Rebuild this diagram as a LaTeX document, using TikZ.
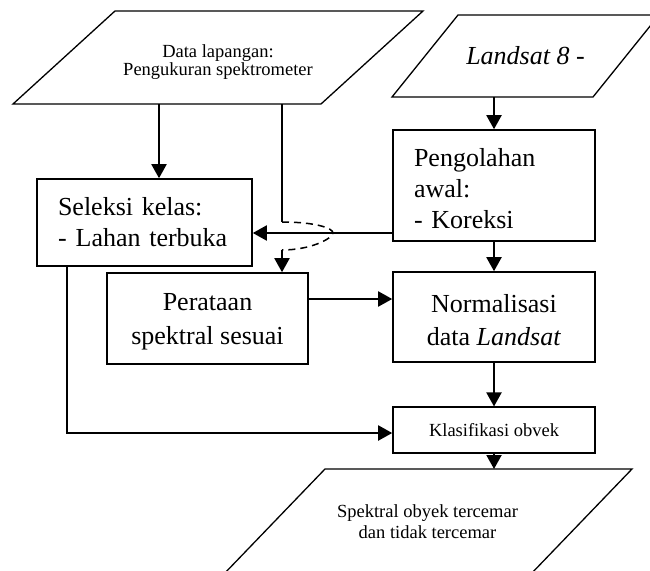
\documentclass[tikz,border=0pt]{standalone}
\usepackage{fontspec}
\setmainfont{Liberation Serif}
\usetikzlibrary{arrows.meta,calc}

\begin{document}
\begin{tikzpicture}[
	x=1pt, y=-1pt,
	box/.style={draw, line width=1.6pt, inner sep=0pt, minimum width=202pt},
	para/.style={line width=1.3pt, line join=miter},
	big/.style={font=\fontsize{26}{31}\selectfont},
	bigwide/.style={font=\fontsize{26}{33.5}\selectfont},
	small/.style={font=\fontsize{18.5}{21}\selectfont},
	tight/.style={font=\fontsize{18.5}{16.5}\selectfont},
	arr/.style={line width=2pt, -{Triangle[length=14pt,width=15pt]}},
	link/.style={line width=2pt},
	hopline/.style={line width=1.5pt, dash pattern=on 7pt off 5pt}
	]
	\useasboundingbox (0,0) rectangle (650,570);
	\clip (0,0) rectangle (650,570);
	% input and output
	\node[tight, align=center, inner sep=0pt] (data) at (218,62)
		{Data lapangan:\\Pengukuran spektrometer};
	\draw[para] ($(data)+(-205,42)$) -- ($(data)+(-103,-51)$) -- ($(data)+(205,-51)$)
		-- ($(data)+(103,42)$) -- cycle;
	\coordinate (dataS) at ($(data)+(0,42)$);
	\node[big, inner sep=0pt] (land) at (525.5,56) {\textit{Landsat 8} -};
	\draw[para] ($(land)+(-133.5,41)$) -- ($(land)+(-67.5,-41)$) -- ($(land)+(133.5,-41)$)
		-- ($(land)+(67.5,41)$) -- cycle;
	\coordinate (landS) at ($(land)+(0,41)$);
	\node[small, align=center, inner sep=0pt] (out) at (427.5,522)
		{Spektral obyek tercemar\\dan tidak tercemar};
	\draw[para] ($(out)+(-204.5,53)$) -- ($(out)+(-102.5,-53)$) -- ($(out)+(204.5,-53)$)
		-- ($(out)+(102.5,53)$) -- cycle;
	\coordinate (outN) at ($(out)+(0,-53)$);
	% boxes
	\node[box, big, text width=173pt, align=left, minimum width=215pt, minimum height=87pt]
		(sel) at (144.5,222.5) {Seleksi kelas:\\-\hspace{9pt}Lahan terbuka};
	\node[box, big, text width=160pt, align=left, minimum height=111pt]
		(pre) at (494,185.5) {\rule{0pt}{24pt}Pengolahan\\awal:\\- Koreksi};
	\node[box, bigwide, align=center, minimum width=201pt, minimum height=91pt]
		(rat) at (207.5,318.5) {\rule{0pt}{24pt}Perataan\\spektral sesuai};
	\node[box, bigwide, align=center, minimum height=90pt]
		(nor) at (494,317) {\rule{0pt}{24pt}Normalisasi\\data \textit{Landsat}};
	\node[box, small, minimum height=45.5pt]
		(kla) at (494,430) {Klasifikasi obvek};
	% connectors
	\coordinate (selin) at ([xshift=14.5pt]sel.north);
	\coordinate (hop) at (282,233);
	\draw[arr] (dataS -| selin) -- (selin);
	\draw[link] (dataS -| hop) -- ($(hop)+(0,-11)$);
	\draw[hopline] ($(hop)+(0,-11)$) .. controls ($(hop)+(33,-11)$) and ($(hop)+(51,-5)$) .. ($(hop)+(51,0)$)
		.. controls ($(hop)+(50,6)$) and ($(hop)+(28,17)$) .. ($(hop)+(0,17)$);
	\draw[arr] ($(hop)+(0,17)$) -- (rat.north -| hop);
	\draw[arr] (landS -| pre.north) -- (pre.north);
	\draw[arr] (pre.west |- hop) -- (sel.east |- hop);
	\draw[arr] (pre.south) -- (nor.north);
	\draw[arr] ([yshift=19.5pt]rat.east) -- ([yshift=19.5pt]rat.east -| nor.west);
	\draw[arr] (nor.south) -- (kla.north);
	\draw[arr] ([xshift=-77.5pt]sel.south) |- ([yshift=-3pt]kla.west);
	\draw[arr] (kla.south) -- (kla.south |- outN);
\end{tikzpicture}
\end{document}
